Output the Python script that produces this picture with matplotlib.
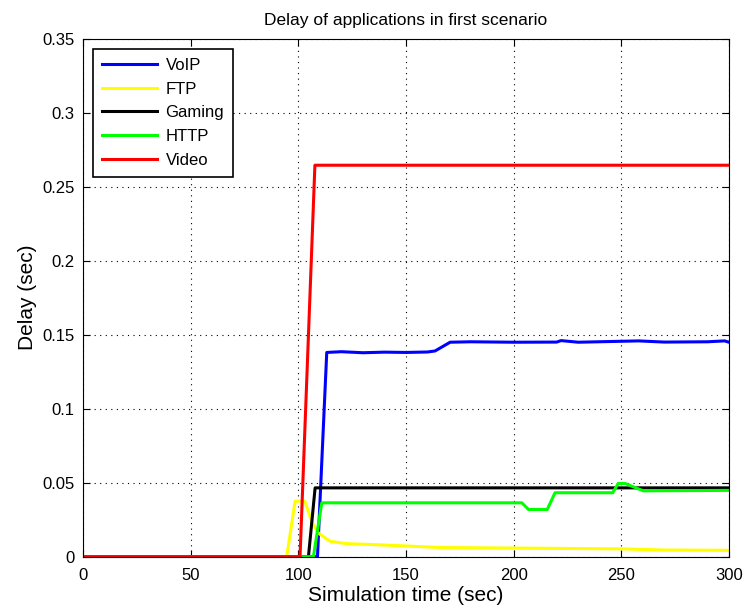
import matplotlib
matplotlib.use("Agg")
import matplotlib.pyplot as plt

plt.rcParams['font.family'] = ['Liberation Sans', 'DejaVu Sans']

# Series (time in sec, delay in sec)
t_voip = [0, 108.9, 113.2, 120, 130, 140, 150, 160, 163.5, 170.5, 180, 200, 220, 222, 230, 258, 270, 290, 298, 300]
d_voip = [0, 0, 0.138, 0.1385, 0.1378, 0.1382, 0.138, 0.1383, 0.139, 0.1449, 0.1452, 0.1449, 0.145, 0.146,
          0.1449, 0.1458, 0.145, 0.1452, 0.1458, 0.1449]

t_ftp = [0, 94.6, 98.5, 103, 106.5, 109.3, 114.7, 122.5, 138, 165.8, 200, 250, 270, 300]
d_ftp = [0, 0, 0.0375, 0.0375, 0.0226, 0.016, 0.0104, 0.0088, 0.008, 0.0062, 0.0058, 0.0053, 0.0045, 0.0043]

t_gaming = [0, 104.7, 107.8, 300]
d_gaming = [0, 0, 0.0465, 0.0465]

t_http = [0, 107, 110.9, 203.8, 206.9, 215.6, 219.2, 246, 248.6, 251.7, 260.2, 300]
d_http = [0, 0, 0.0364, 0.0364, 0.0319, 0.0319, 0.0432, 0.0432, 0.0495, 0.0495, 0.0445, 0.0448]

t_video = [0, 100.8, 107.7, 300]
d_video = [0, 0, 0.2645, 0.2645]

fig = plt.figure(figsize=(7.45, 6.11), dpi=100)
ax = fig.add_axes([0.1114, 0.0889, 0.8671, 0.8478])

ax.plot(t_voip, d_voip, color='#0000ff', lw=2.2, label='VoIP')
ax.plot(t_ftp, d_ftp, color='#ffff00', lw=2.2, label='FTP')
ax.plot(t_gaming, d_gaming, color='black', lw=2.2, label='Gaming')
ax.plot(t_http, d_http, color='#00ff00', lw=2.2, label='HTTP')
ax.plot(t_video, d_video, color='#ff0000', lw=2.2, label='Video')

ax.set_xlim(0, 300)
ax.set_ylim(0, 0.35)
ax.set_xticks([0, 50, 100, 150, 200, 250, 300])
ax.set_yticks([0, 0.05, 0.1, 0.15, 0.2, 0.25, 0.3, 0.35])
ax.set_yticklabels(['0', '0.05', '0.1', '0.15', '0.2', '0.25', '0.3', '0.35'])
ax.tick_params(direction='in', top=True, right=True, labelsize=12, length=5)
ax.tick_params(axis='x', pad=8)
ax.tick_params(axis='y', pad=6)
ax.grid(True, linestyle=(0, (1, 4)), color='black', lw=0.8)

ax.set_title('Delay of applications in first scenario', fontsize=12.5, pad=10)
ax.set_xlabel('Simulation time (sec)', fontsize=15, labelpad=2)
ax.set_ylabel('Delay (sec)', fontsize=15, labelpad=4)

leg = ax.legend(loc='upper left', fontsize=12, handlelength=3.3, fancybox=False,
                framealpha=1, edgecolor='black', borderaxespad=0.6, borderpad=0.55,
                labelspacing=0.52, handletextpad=0.5)
leg.get_frame().set_linewidth(1.2)

plt.savefig('out.png')
plt.close()
